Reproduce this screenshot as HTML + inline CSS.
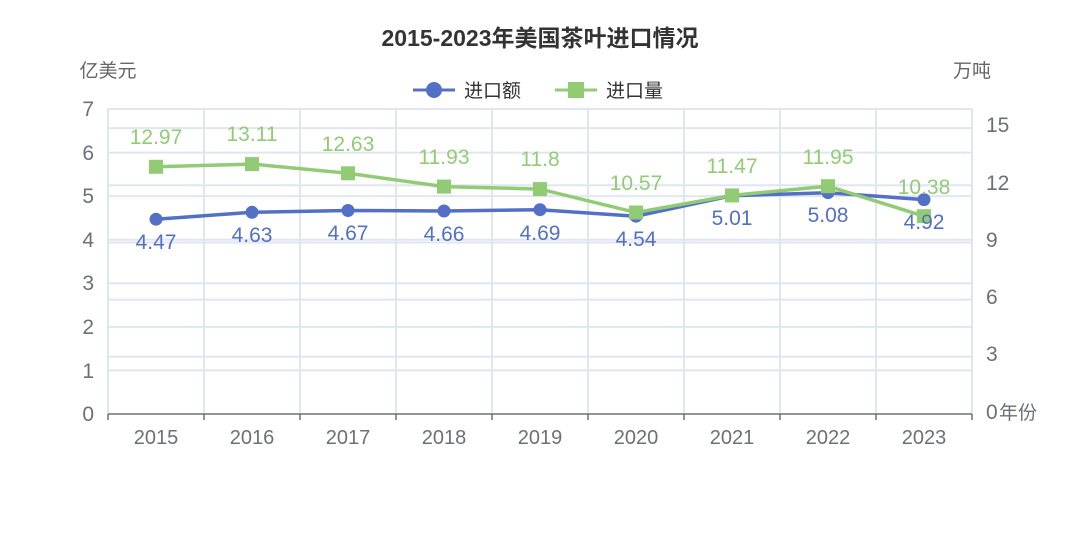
<!DOCTYPE html>
<html><head><meta charset="utf-8"><style>body{margin:0;background:#fff}svg{display:block}text{font-family:"Liberation Sans","Noto Sans CJK SC",sans-serif}</style></head><body>
<svg width="1080" height="540" xmlns="http://www.w3.org/2000/svg">
<text x="540" y="46" text-anchor="middle" font-size="23" font-weight="bold" fill="#333">2015-2023年美国茶叶进口情况</text>
<text x="108" y="77" text-anchor="middle" font-size="19" fill="#666">亿美元</text>
<text x="972" y="77" text-anchor="middle" font-size="19" fill="#666">万吨</text>
<line x1="413" y1="90" x2="455" y2="90" stroke="#5470c6" stroke-width="3"/><circle cx="434" cy="90" r="8" fill="#5470c6"/>
<text x="464" y="97" font-size="19" fill="#333">进口额</text>
<line x1="555" y1="90" x2="597" y2="90" stroke="#91cc75" stroke-width="3"/><rect x="568" y="82" width="16" height="16" fill="#91cc75"/>
<text x="606" y="97" font-size="19" fill="#333">进口量</text>
<g stroke="#e0e6f1" stroke-width="2" fill="none">
<line x1="108" x2="972" y1="109" y2="109"/><line x1="108" x2="972" y1="152.6" y2="152.6"/><line x1="108" x2="972" y1="196.1" y2="196.1"/><line x1="108" x2="972" y1="239.7" y2="239.7"/><line x1="108" x2="972" y1="283.3" y2="283.3"/><line x1="108" x2="972" y1="326.9" y2="326.9"/><line x1="108" x2="972" y1="370.4" y2="370.4"/>
<line x1="108" x2="972" y1="128.1" y2="128.1"/><line x1="108" x2="972" y1="185.3" y2="185.3"/><line x1="108" x2="972" y1="242.5" y2="242.5"/><line x1="108" x2="972" y1="299.6" y2="299.6"/><line x1="108" x2="972" y1="356.8" y2="356.8"/>
<line x1="108" x2="108" y1="109" y2="414"/><line x1="204" x2="204" y1="109" y2="414"/><line x1="300" x2="300" y1="109" y2="414"/><line x1="396" x2="396" y1="109" y2="414"/><line x1="492" x2="492" y1="109" y2="414"/><line x1="588" x2="588" y1="109" y2="414"/><line x1="684" x2="684" y1="109" y2="414"/><line x1="780" x2="780" y1="109" y2="414"/><line x1="876" x2="876" y1="109" y2="414"/><line x1="972" x2="972" y1="109" y2="414"/>
</g>
<g stroke="#6e7079" stroke-width="1.5"><line x1="108" x2="972" y1="414" y2="414"/>
<line x1="108" x2="108" y1="414" y2="420"/><line x1="204" x2="204" y1="414" y2="420"/><line x1="300" x2="300" y1="414" y2="420"/><line x1="396" x2="396" y1="414" y2="420"/><line x1="492" x2="492" y1="414" y2="420"/><line x1="588" x2="588" y1="414" y2="420"/><line x1="684" x2="684" y1="414" y2="420"/><line x1="780" x2="780" y1="414" y2="420"/><line x1="876" x2="876" y1="414" y2="420"/><line x1="972" x2="972" y1="414" y2="420"/></g>
<g font-size="21" fill="#6e7079" text-anchor="end">
<text x="94" y="116">7</text><text x="94" y="160">6</text><text x="94" y="203">5</text><text x="94" y="247">4</text><text x="94" y="290">3</text><text x="94" y="334">2</text><text x="94" y="378">1</text><text x="94" y="421">0</text></g>
<g font-size="21" fill="#6e7079">
<text x="986" y="132">15</text><text x="986" y="190">12</text><text x="986" y="247">9</text><text x="986" y="304">6</text><text x="986" y="361">3</text><text x="986" y="419">0</text></g>
<text x="999" y="419" font-size="19" fill="#6e7079">年份</text>
<g font-size="20" fill="#6e7079" text-anchor="middle">
<text x="156" y="444">2015</text><text x="252" y="444">2016</text><text x="348" y="444">2017</text><text x="444" y="444">2018</text><text x="540" y="444">2019</text><text x="636" y="444">2020</text><text x="732" y="444">2021</text><text x="828" y="444">2022</text><text x="924" y="444">2023</text></g>
<polyline fill="none" stroke="#5470c6" stroke-width="3.5" points="156,219.2 252,212.3 348,210.5 444,211 540,209.7 636,216.2 732,195.7 828,192.7 924,199.6"/>
<g fill="#5470c6"><circle cx="156" cy="219.2" r="6.5"/><circle cx="252" cy="212.3" r="6.5"/><circle cx="348" cy="210.5" r="6.5"/><circle cx="444" cy="211" r="6.5"/><circle cx="540" cy="209.7" r="6.5"/><circle cx="636" cy="216.2" r="6.5"/><circle cx="732" cy="195.7" r="6.5"/><circle cx="828" cy="192.7" r="6.5"/><circle cx="924" cy="199.6" r="6.5"/></g>
<polyline fill="none" stroke="#91cc75" stroke-width="3.5" points="156,166.8 252,164.1 348,173.3 444,186.6 540,189.1 636,212.5 732,195.4 828,186.2 924,216.2"/>
<g fill="#91cc75"><rect x="149" y="159.8" width="14" height="14"/><rect x="245" y="157.1" width="14" height="14"/><rect x="341" y="166.3" width="14" height="14"/><rect x="437" y="179.6" width="14" height="14"/><rect x="533" y="182.1" width="14" height="14"/><rect x="629" y="205.5" width="14" height="14"/><rect x="725" y="188.4" width="14" height="14"/><rect x="821" y="179.2" width="14" height="14"/><rect x="917" y="209.2" width="14" height="14"/></g>
<g font-size="21" fill="#91cc75" text-anchor="middle">
<text x="156" y="144">12.97</text><text x="252" y="141">13.11</text><text x="348" y="151">12.63</text><text x="444" y="164">11.93</text><text x="540" y="166">11.8</text><text x="636" y="190">10.57</text><text x="732" y="173">11.47</text><text x="828" y="164">11.95</text><text x="924" y="194">10.38</text></g>
<g font-size="21" fill="#5470c6" text-anchor="middle">
<text x="156" y="249">4.47</text><text x="252" y="242">4.63</text><text x="348" y="240">4.67</text><text x="444" y="241">4.66</text><text x="540" y="240">4.69</text><text x="636" y="246">4.54</text><text x="732" y="225">5.01</text><text x="828" y="222">5.08</text><text x="924" y="229">4.92</text></g>
</svg>
</body></html>
